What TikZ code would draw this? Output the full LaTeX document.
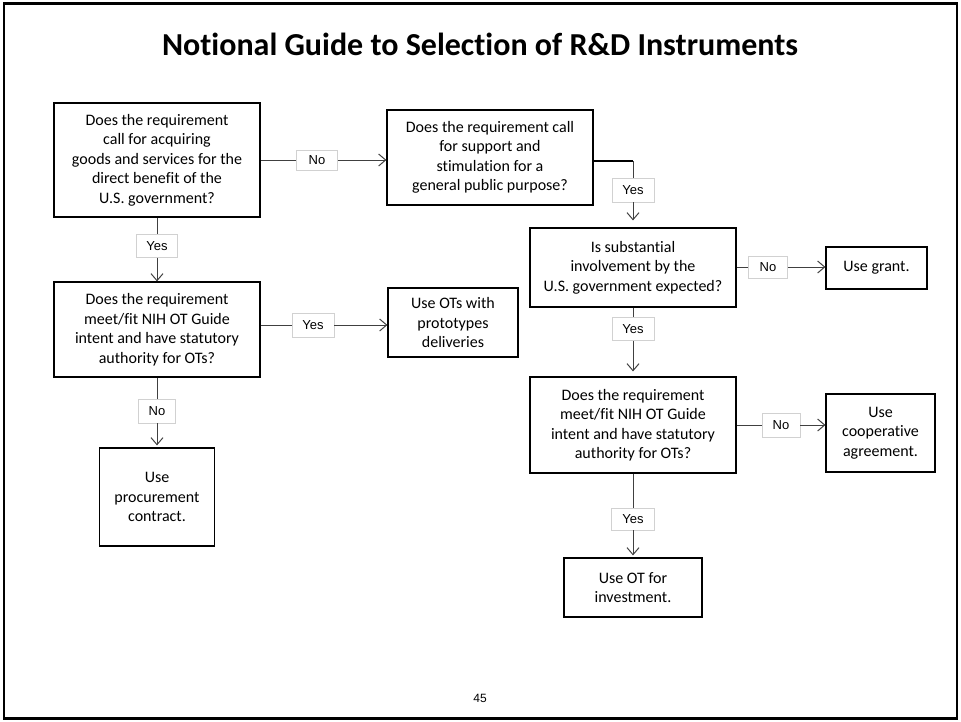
\documentclass[tikz,border=0pt]{standalone}
\usepackage{fontspec}
\setmainfont{Carlito}[Ligatures=NoCommon]
\newfontfamily\arialf{Liberation Sans}
\usetikzlibrary{arrows.meta}
\begin{document}
\begin{tikzpicture}[x=1pt,y=-1pt,
  box/.style={draw=black, line width=1.2pt, fill=white, align=center, inner sep=0pt,
    font=\fontsize{16}{19.5}\selectfont},
  lbl/.style={draw=black!18, line width=0.8pt, fill=white, inner sep=0pt,
    font=\arialf\fontsize{13}{15}\selectfont},
  conn/.style={draw=black!75, line width=1pt},
  arr/.style={conn, -{Straight Barb[length=7pt,width=12pt]}}]
\useasboundingbox (0,0) rectangle (961,721);
% slide frame
\draw[line width=2.6pt] (4,3.5) rectangle (957,718.5);

% title
\node[font=\bfseries\fontsize{32}{38}\selectfont] (title) at (480,44)
  {Notional Guide to Selection of R\&D Instruments};

% decision and outcome boxes
\node[box, minimum width=206pt, minimum height=114pt] (A) at (157,160)
  {Does the requirement\\call for acquiring\\goods and services for the\\direct benefit of the\\U.S. government?};
\node[box, minimum width=206pt, minimum height=95pt] (B) at (490,157.5)
  {Does the requirement call\\for support and\\stimulation for a\\general public purpose?};
\node[box, minimum width=206pt, minimum height=79pt] (C) at (633,267.5)
  {Is substantial\\involvement by the\\U.S. government expected?};
\node[box, minimum width=101pt, minimum height=42pt] (G) at (876.5,268)
  {Use grant.};
\node[box, minimum width=206pt, minimum height=96pt] (H) at (633,425)
  {Does the requirement\\meet/fit NIH OT Guide\\intent and have statutory\\authority for OTs?};
\node[box, minimum width=109pt, minimum height=78pt] (I) at (880.5,433)
  {Use\\cooperative\\agreement.};
\node[box, minimum width=138pt, minimum height=59pt] (J) at (633,587.5)
  {Use OT for\\investment.};
\node[box, minimum width=206pt, minimum height=95pt] (D) at (157,329.5)
  {Does the requirement\\meet/fit NIH OT Guide\\intent and have statutory\\authority for OTs?};
\node[box, minimum width=130pt, minimum height=69pt] (E) at (453,322.5)
  {Use OTs with\\prototypes\\deliveries};
\node[box, minimum width=115pt, minimum height=98pt] (F) at (157,497)
  {Use\\procurement\\contract.};

% answer labels
\node[lbl, minimum width=41pt, minimum height=20pt] (nAB) at (317,160) {No};
\node[lbl, minimum width=42pt, minimum height=24pt] (yBC) at (633,190) {Yes};
\node[lbl, minimum width=39pt, minimum height=22pt] (nCG) at (768,267) {No};
\node[lbl, minimum width=42pt, minimum height=23pt] (yCH) at (633,329) {Yes};
\node[lbl, minimum width=38pt, minimum height=24pt] (nHI) at (781,425) {No};
\node[lbl, minimum width=43pt, minimum height=22pt] (yHJ) at (633,519) {Yes};
\node[lbl, minimum width=41pt, minimum height=23pt] (yAD) at (157,246) {Yes};
\node[lbl, minimum width=42pt, minimum height=24pt] (yDE) at (313,325) {Yes};
\node[lbl, minimum width=37pt, minimum height=24pt] (nDF) at (157,411) {No};

% connectors
\draw[conn] (A.east) -- (nAB.west);
\draw[arr] (nAB.east) -- (nAB.east -| B.west);

\coordinate (bc) at (633,161);
\draw[line width=2pt] (B.east |- bc) -- (bc);
\draw[conn] (bc) -- (yBC.north);
\draw[arr, shorten >=7pt] (yBC.south) -- (C.north);

\draw[conn] (C.east |- nCG) -- (nCG.west);
\draw[arr] (nCG.east) -- (nCG.east -| G.west);

\draw[conn] (C.south) -- (yCH.north);
\draw[arr, shorten >=5pt] (yCH.south) -- (H.north);

\draw[conn] (H.east) -- (nHI.west);
\draw[arr] (nHI.east) -- (nHI.east -| I.west);

\draw[conn] (H.south) -- (yHJ.north);
\draw[arr, shorten >=2pt] (yHJ.south) -- (J.north);

\draw[conn] (A.south) -- (yAD.north);
\draw[arr] (yAD.south) -- (D.north);

\draw[conn] (D.east |- yDE) -- (yDE.west);
\draw[arr] (yDE.east) -- (yDE.east -| E.west);

\draw[conn] (D.south) -- (nDF.north);
\draw[arr, shorten >=2pt] (nDF.south) -- (F.north);

% page number
\node[font=\arialf\fontsize{12}{14}\selectfont] (pg) at (480,698) {45};
\end{tikzpicture}
\end{document}
